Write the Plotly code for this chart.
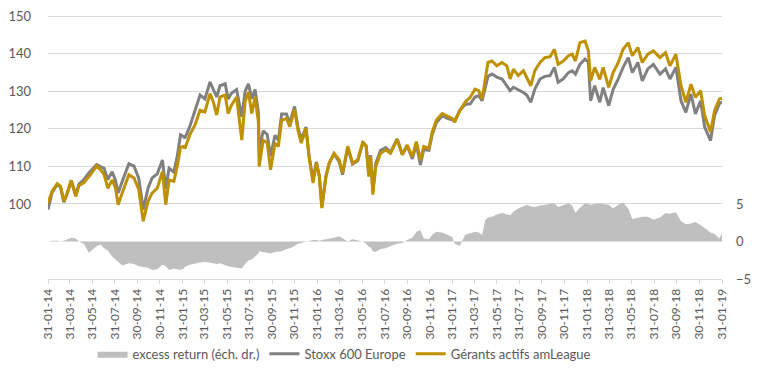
import plotly.graph_objects as go

# ---- data ----
dates = [
    "2014-01-31","2014-02-11","2014-02-25","2014-03-06","2014-03-15","2014-03-24","2014-04-04","2014-04-16",
    "2014-04-25","2014-05-08","2014-05-22","2014-06-12","2014-06-23","2014-07-02","2014-07-12","2014-07-24",
    "2014-08-02","2014-08-09","2014-08-20","2014-09-07","2014-09-21","2014-10-04","2014-10-16","2014-10-29",
    "2014-11-09","2014-11-23","2014-12-07","2014-12-16","2014-12-25","2015-01-07","2015-01-16","2015-01-25",
    "2015-02-03","2015-02-06","2015-02-19","2015-03-05","2015-03-19","2015-04-01","2015-04-15","2015-04-24",
    "2015-05-03","2015-05-12","2015-05-26","2015-06-03","2015-06-12","2015-06-26","2015-07-10","2015-07-19",
    "2015-07-28","2015-08-06","2015-08-15","2015-08-24","2015-08-26","2015-09-06","2015-09-17","2015-09-26",
    "2015-10-08","2015-10-17","2015-10-26","2015-11-08","2015-11-17","2015-11-30","2015-12-09","2015-12-18",
    "2015-12-31","2016-01-08","2016-01-19","2016-01-28","2016-02-05","2016-02-12","2016-02-23","2016-03-03",
    "2016-03-16","2016-03-30","2016-04-08","2016-04-22","2016-05-05","2016-05-19","2016-06-02","2016-06-11",
    "2016-06-18","2016-06-23","2016-06-29","2016-07-07","2016-07-20","2016-08-03","2016-08-16","2016-09-03",
    "2016-09-17","2016-09-30","2016-10-14","2016-10-25","2016-11-05","2016-11-14","2016-11-28","2016-12-07",
    "2016-12-18","2017-01-03","2017-01-17","2017-01-30","2017-02-06","2017-02-20","2017-03-06","2017-03-20",
    "2017-04-02","2017-04-12","2017-04-21","2017-04-30","2017-05-07","2017-05-18","2017-05-31","2017-06-14",
    "2017-06-27","2017-07-06","2017-07-15","2017-07-28","2017-08-11","2017-08-20","2017-08-31","2017-09-11",
    "2017-09-25","2017-10-08","2017-10-22","2017-11-03","2017-11-13","2017-11-27","2017-12-11","2017-12-21",
    "2017-12-30","2018-01-11","2018-01-25","2018-02-03","2018-02-09","2018-02-20","2018-03-06","2018-03-15",
    "2018-03-30","2018-04-11","2018-04-25","2018-05-08","2018-05-22","2018-06-02","2018-06-17","2018-06-29",
    "2018-07-14","2018-07-29","2018-08-16","2018-08-31","2018-09-12","2018-09-28","2018-10-12","2018-10-25",
    "2018-11-08","2018-11-20","2018-12-04","2018-12-15","2018-12-31","2019-01-11","2019-01-24","2019-01-31",
]

gerants = [
    100.2,103.4,105.4,104.7,100.7,102.9,106.3,102.0,
    104.9,105.6,107.3,110.1,109.1,107.8,104.2,106.4,
    104.2,99.8,102.9,107.8,106.9,103.8,95.4,100.7,
    102.9,104.2,108.6,99.8,106.4,106.0,110.0,115.1,
    115.3,114.8,118.4,121.0,125.0,124.5,129.4,127.2,
    123.7,128.5,129.0,124.1,126.3,128.5,117.0,127.2,
    129.8,124.1,128.5,121.9,110.0,117.0,116.2,109.1,
    116.2,115.3,122.3,122.8,120.6,125.2,119.7,116.2,
    120.1,112.7,105.6,110.9,107.3,98.9,107.3,110.9,
    113.5,111.7,108.2,115.4,110.9,111.7,116.6,115.3,
    107.3,112.6,102.5,110.0,113.5,114.4,113.5,117.2,
    113.1,115.7,112.6,116.6,111.7,115.3,114.8,119.2,
    122.3,124.1,123.4,122.8,121.8,124.9,127.1,128.4,
    130.6,130.2,128.0,134.2,137.7,138.1,136.8,137.7,
    136.8,133.3,135.9,134.2,135.5,133.7,131.5,135.5,
    137.7,139.0,139.2,141.2,137.2,138.1,139.5,139.9,
    138.1,143.0,143.4,140.8,132.8,136.4,133.2,136.4,
    131.1,135.0,137.7,141.2,143.0,139.5,141.7,137.7,
    139.9,140.8,139.0,140.3,136.8,139.9,131.5,127.1,
    131.9,128.4,130.2,123.6,119.2,124.9,128.0,128.2,
]

stoxx = [
    98.5,103.0,105.2,104.5,100.5,102.7,106.2,102.5,
    105.3,106.5,108.3,110.5,109.9,109.5,106.5,108.6,
    106.2,102.9,106.0,110.7,110.1,106.8,98.5,104.2,
    106.9,108.0,111.7,104.0,109.5,108.5,112.6,118.4,
    117.9,117.5,120.6,125.0,129.0,128.0,132.5,130.5,
    128.5,131.5,132.0,128.0,129.5,130.5,123.2,130.0,
    132.0,128.0,130.5,124.5,114.0,119.5,118.5,112.7,
    118.3,117.0,124.0,124.0,121.5,126.0,120.5,117.2,
    120.5,113.0,106.5,111.2,107.5,99.3,107.4,110.9,
    113.3,111.2,107.8,115.0,110.6,111.5,116.3,115.5,
    108.0,113.0,103.5,110.8,114.3,115.0,113.8,117.3,
    113.2,115.5,112.0,115.8,110.4,114.5,114.3,118.5,
    121.6,123.5,122.8,122.4,122.2,125.0,126.5,126.7,
    128.5,128.9,127.5,131.1,134.0,134.6,133.8,133.3,
    131.5,130.2,131.1,130.5,129.7,129.0,127.1,130.6,
    133.3,134.0,134.2,136.4,132.4,133.3,135.0,135.5,
    134.6,137.2,138.6,137.8,127.5,131.5,127.1,131.0,
    126.2,130.5,133.3,136.4,139.0,135.0,137.7,132.8,
    136.0,137.2,134.6,136.0,133.3,136.4,127.5,124.4,
    129.3,124.0,127.5,120.5,116.9,123.6,126.7,127.2,
]

excess = [
    0.0,0.1,0.1,0.0,0.1,0.3,0.5,0.4,
    0.0,-0.3,-1.5,-0.6,-0.4,-0.9,-1.2,-2.0,
    -2.4,-2.8,-3.2,-2.9,-3.0,-3.3,-3.4,-3.5,
    -3.8,-3.7,-3.1,-3.3,-3.8,-3.6,-3.7,-3.8,
    -3.6,-3.4,-3.1,-3.0,-2.8,-2.7,-2.8,-2.9,
    -3.0,-2.9,-3.2,-3.3,-3.4,-3.5,-3.6,-3.0,
    -2.5,-2.4,-2.0,-1.6,-1.3,-1.4,-1.5,-1.6,
    -1.4,-1.3,-1.3,-1.0,-0.9,-0.6,-0.3,-0.2,
    0.0,0.1,0.2,0.2,0.1,0.2,0.3,0.3,
    0.5,0.7,0.4,0.0,0.3,0.1,0.0,-0.3,
    -0.7,-0.8,-1.3,-1.4,-1.0,-0.9,-0.6,-0.3,
    -0.2,0.2,0.5,1.3,1.5,0.4,0.3,0.9,
    1.3,1.2,0.9,0.6,-0.3,-0.6,0.9,1.1,
    1.3,1.2,0.9,2.9,3.2,3.3,3.6,3.8,
    3.6,3.5,4.0,4.4,4.7,4.9,4.7,4.6,
    4.8,4.9,5.0,5.1,4.6,4.9,5.1,4.8,
    3.8,4.5,5.1,5.0,4.9,5.0,5.1,5.0,
    4.9,4.4,4.9,5.2,4.4,3.0,3.2,3.3,
    3.3,2.9,3.2,3.8,3.7,3.9,2.7,2.3,
    2.4,2.6,2.2,1.8,1.2,1.0,0.4,1.1,
]

tick_dates = [
    "2014-01-31","2014-03-31","2014-05-31","2014-07-31","2014-09-30","2014-11-30",
    "2015-01-31","2015-03-31","2015-05-31","2015-07-31","2015-09-30","2015-11-30",
    "2016-01-31","2016-03-31","2016-05-31","2016-07-31","2016-09-30","2016-11-30",
    "2017-01-31","2017-03-31","2017-05-31","2017-07-31","2017-09-30","2017-11-30",
    "2018-01-31","2018-03-31","2018-05-31","2018-07-31","2018-09-30","2018-11-30",
    "2019-01-31",
]
tick_labels = [
    "31-01-14","31-03-14","31-05-14","31-07-14","30-09-14","30-11-14",
    "31-01-15","31-03-15","31-05-15","31-07-15","30-09-15","30-11-15",
    "31-01-16","31-03-16","31-05-16","31-07-16","30-09-16","30-11-16",
    "31-01-17","31-03-17","31-05-17","31-07-17","30-09-17","30-11-17",
    "31-01-18","31-03-18","31-05-18","31-07-18","30-09-18","30-11-18",
    "31-01-19",
]
left_ticks = [100, 110, 120, 130, 140, 150]
right_ticks = [-5, 0, 5]

names = ["excess return (éch. dr.)", "Stoxx 600 Europe", "Gérants actifs amLeague"]

TXT = "#595959"
FONT = "Lato"

fig = go.Figure()
fig.add_trace(go.Scatter(
    x=dates, y=excess, name=names[0], yaxis="y2", mode="lines",
    line=dict(width=0, color="#BFBFBF"), fill="tozeroy", fillcolor="#BFBFBF",
))
fig.add_trace(go.Scatter(
    x=dates, y=stoxx, name=names[1], mode="lines",
    line=dict(width=3, color="#808080"),
))
fig.add_trace(go.Scatter(
    x=dates, y=gerants, name=names[2], mode="lines",
    line=dict(width=3, color="#BF9000"),
))

# the page body adds an 8px margin, so the figure is 8px smaller and shifted
fig.update_layout(
    width=760, height=368,
    margin=dict(l=40, r=46, t=7, b=97, autoexpand=False),
    paper_bgcolor="white", plot_bgcolor="white",
    font=dict(family=FONT, color=TXT, size=12),
    showlegend=True,
    legend=dict(
        orientation="h", x=0.44, xanchor="center", y=-0.283, yanchor="middle",
        font=dict(size=13, color=TXT), itemwidth=30, tracegroupgap=0,
    ),
    xaxis=dict(
        type="date", range=["2014-01-31", "2019-01-31"], automargin=False,
        tickmode="array", tickvals=tick_dates, ticktext=tick_labels,
        tickangle=-90, tickfont=dict(size=12, color=TXT),
        showgrid=False, zeroline=False,
        showline=True, linecolor="#D9D9D9", linewidth=1,
        ticks="outside", ticklen=4, tickcolor="#D9D9D9",
    ),
    yaxis=dict(
        range=[80, 150.35], tickmode="array", tickvals=left_ticks, automargin=False,
        tickfont=dict(size=13, color=TXT), ticklabeloverflow="allow",
        showgrid=True, gridcolor="#D9D9D9", gridwidth=1,
        zeroline=False, showline=False, ticks="", ticklabelstandoff=16,
    ),
    yaxis2=dict(
        range=[-5, 30.175], overlaying="y", side="right", automargin=False,
        tickmode="array", tickvals=right_ticks, ticklabeloverflow="allow",
        tickfont=dict(size=13, color=TXT),
        showgrid=False, zeroline=False, showline=False, ticks="",
        ticklabelstandoff=13,
    ),
)

fig.write_html("out.html")
